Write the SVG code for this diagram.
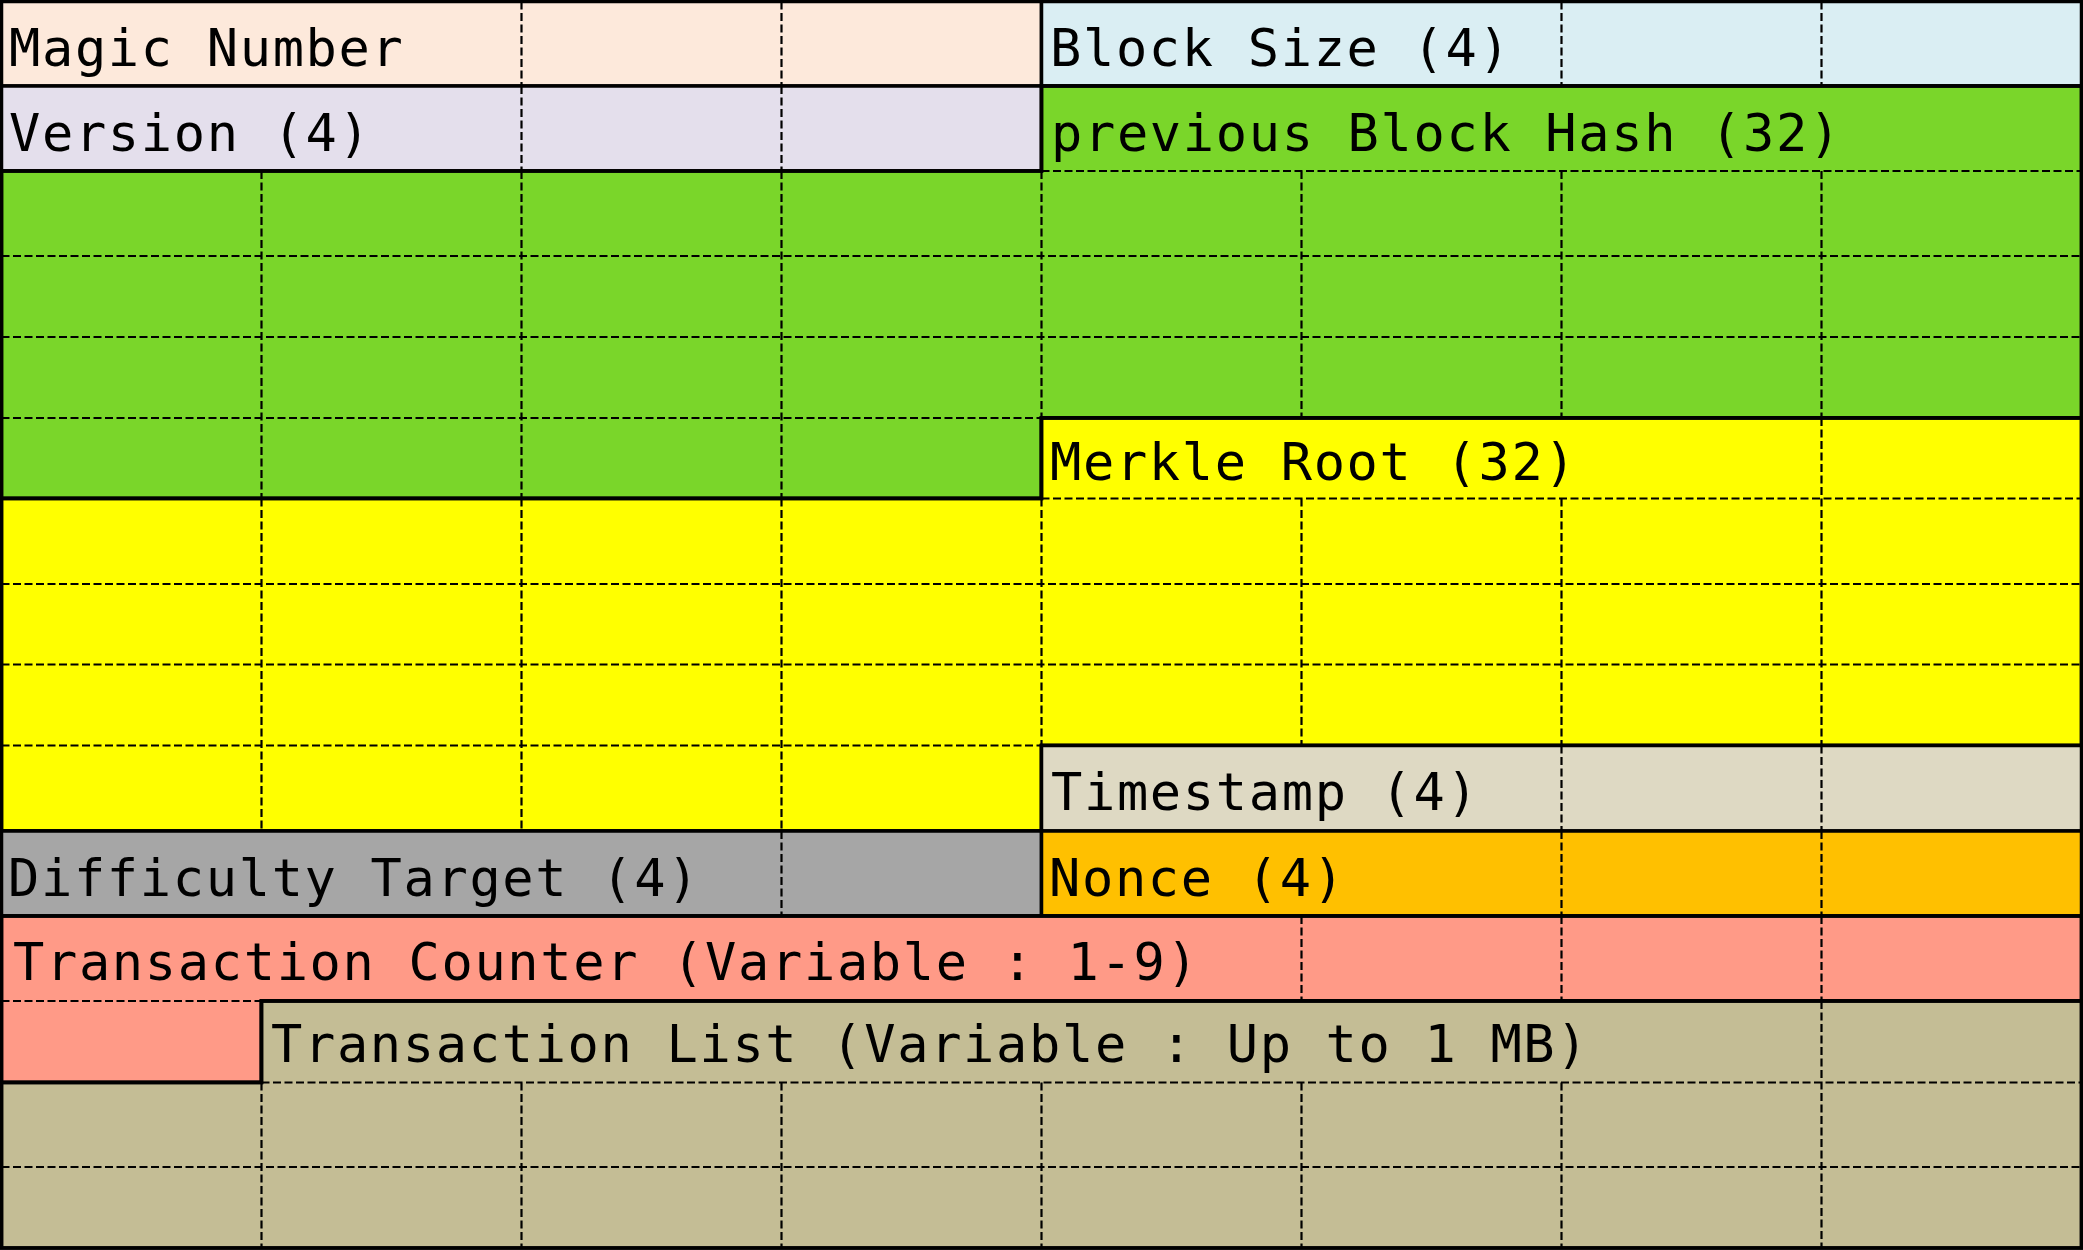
<svg xmlns="http://www.w3.org/2000/svg" width="2083" height="1250" viewBox="0 0 2083 1250">
  <style>
    .fld { stroke: #000; stroke-width: 3.5; stroke-linejoin: miter; }
    .grid { stroke: #000; stroke-width: 2.2; stroke-dasharray: 8 3.5; fill: none; }
    .lbl { font-family: "DejaVu Sans Mono", "Liberation Mono", monospace; font-size: 52px; letter-spacing: 1.65px; fill: #000; }
  </style>
  <rect x="0" y="0" width="2083" height="1250" fill="#ffffff"/>

  <!-- Columns: 1.5 261.5 521.5 781.5 1041.5 1301.5 1561.5 1821.5 2081.5 -->
  <!-- Rows: 1.5 86 171 256 337 418 498.5 584 664.5 745.5 831 916 1001 1082.5 1167 1248 -->

  <g id="magic-number">
    <rect class="fld" x="1.5" y="1.5" width="1040" height="84.5" fill="#FDE9DB"/>
    <path class="grid" d="M521.5 1.5V86M781.5 1.5V86"/>
    <text class="lbl" x="9" y="66">Magic Number</text>
  </g>

  <g id="block-size">
    <rect class="fld" x="1041.5" y="1.5" width="1040" height="84.5" fill="#DAEEF3"/>
    <path class="grid" d="M1561.5 1.5V86M1821.5 1.5V86"/>
    <text class="lbl" x="1050" y="66">Block Size (4)</text>
  </g>

  <g id="version">
    <rect class="fld" x="1.5" y="86" width="1040" height="85" fill="#E4DFEC"/>
    <path class="grid" d="M521.5 86V171M781.5 86V171"/>
    <text class="lbl" x="9" y="151">Version (4)</text>
  </g>

  <g id="previous-block-hash">
    <path class="fld" fill="#7AD62A" d="M1041.5 86H2081.5V418H1041.5V498.5H1.5V171H1041.5Z"/>
    <path class="grid" d="M1041.5 171H2081.5M1.5 256H2081.5M1.5 337H2081.5M1.5 418H1041.5
      M261.5 171V498.5M521.5 171V498.5M781.5 171V498.5
      M1041.5 171V418M1301.5 171V418M1561.5 171V418M1821.5 171V418"/>
    <path class="fld" fill="none" d="M1041.5 86H2081.5V418H1041.5V498.5H1.5V171H1041.5Z"/>
    <text class="lbl" x="1051" y="151">previous Block Hash (32)</text>
  </g>

  <g id="merkle-root">
    <path class="fld" fill="#FFFF00" d="M1041.5 418H2081.5V745.5H1041.5V831H1.5V498.5H1041.5Z"/>
    <path class="grid" d="M1041.5 498.5H2081.5M1.5 584H2081.5M1.5 664.5H2081.5M1.5 745.5H1041.5
      M261.5 498.5V831M521.5 498.5V831M781.5 498.5V831
      M1041.5 498.5V745.5M1301.5 498.5V745.5M1561.5 498.5V745.5M1821.5 418V745.5"/>
    <path class="fld" fill="none" d="M1041.5 418H2081.5V745.5H1041.5V831H1.5V498.5H1041.5Z"/>
    <text class="lbl" x="1050" y="480">Merkle Root (32)</text>
  </g>

  <g id="timestamp">
    <rect class="fld" x="1041.5" y="745.5" width="1040" height="85.5" fill="#DED9C3"/>
    <path class="grid" d="M1561.5 745.5V831M1821.5 745.5V831"/>
    <text class="lbl" x="1051" y="810">Timestamp (4)</text>
  </g>

  <g id="difficulty-target">
    <rect class="fld" x="1.5" y="831" width="1040" height="85" fill="#A6A6A6"/>
    <path class="grid" d="M781.5 831V916"/>
    <text class="lbl" x="8" y="896">Difficulty Target (4)</text>
  </g>

  <g id="nonce">
    <rect class="fld" x="1041.5" y="831" width="1040" height="85" fill="#FFC000"/>
    <path class="grid" d="M1561.5 831V916M1821.5 831V916"/>
    <text class="lbl" x="1049" y="896">Nonce (4)</text>
  </g>

  <g id="transaction-counter">
    <path class="fld" fill="#FF9A87" d="M1.5 916H2081.5V1001H261.5V1082.5H1.5Z"/>
    <path class="grid" d="M1.5 1001H261.5M1301.5 916V1001M1561.5 916V1001M1821.5 916V1001"/>
    <path class="fld" fill="none" d="M1.5 916H2081.5V1001H261.5V1082.5H1.5Z"/>
    <text class="lbl" x="13" y="980">Transaction Counter (Variable : 1-9)</text>
  </g>

  <g id="transaction-list">
    <path class="fld" fill="#C4BD95" d="M261.5 1001H2081.5V1248H1.5V1082.5H261.5Z"/>
    <path class="grid" d="M261.5 1082.5H2081.5M1.5 1167H2081.5
      M261.5 1082.5V1248M521.5 1082.5V1248M781.5 1082.5V1248M1041.5 1082.5V1248
      M1301.5 1082.5V1248M1561.5 1082.5V1248M1821.5 1001V1248"/>
    <path class="fld" fill="none" d="M261.5 1001H2081.5V1248H1.5V1082.5H261.5Z"/>
    <text class="lbl" x="271" y="1062">Transaction List (Variable : Up to 1 MB)</text>
  </g>
</svg>
